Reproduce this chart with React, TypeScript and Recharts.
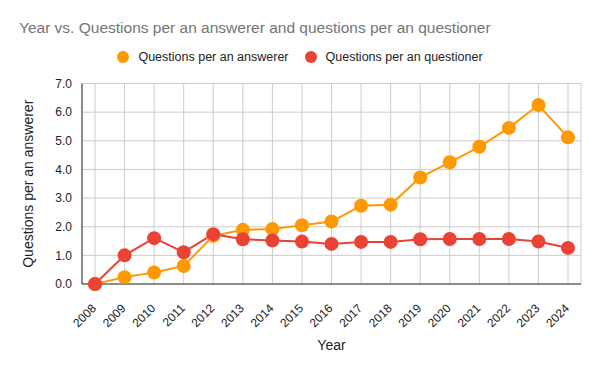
import React from 'react';
import { LineChart, Line, XAxis, YAxis, CartesianGrid, Legend, ReferenceArea } from 'recharts';

const years = ['2008','2009','2010','2011','2012','2013','2014','2015','2016','2017','2018','2019','2020','2021','2022','2023','2024'];
const perAnswerer = [0, 0.24, 0.4, 0.63, 1.68, 1.89, 1.92, 2.05, 2.18, 2.73, 2.77, 3.72, 4.25, 4.79, 5.45, 6.25, 5.12];
const perQuestioner = [0, 1.0, 1.6, 1.11, 1.74, 1.56, 1.52, 1.48, 1.4, 1.47, 1.47, 1.56, 1.57, 1.57, 1.57, 1.48, 1.26];
const yTicks = [0, 1, 2, 3, 4, 5, 6, 7];

const data = years.map((y, i) => ({ year: y, a: perAnswerer[i], q: perQuestioner[i] }));

const FONT = 'Arial, "Liberation Sans", sans-serif';
const ORANGE = '#ff9900';
const RED = '#ea4335';

const XTick = (props: any) => {
  const { x, y, payload } = props;
  return (
    <g transform={`translate(${x + 2},${y + 17})`}>
      <text x={0} y={0} textAnchor="end" transform="rotate(-45)" fontSize={12} fill="#222" fontFamily={FONT}>
        {payload.value}
      </text>
    </g>
  );
};

const LegendContent = (props: any) => {
  const { payload } = props;
  return (
    <div style={{ display: 'flex', justifyContent: 'center', alignItems: 'center', fontFamily: FONT, fontSize: 12.5, color: '#222', width: 600 }}>
      {(payload || []).map((p: any, i: number) => (
        <div key={i} style={{ display: 'flex', alignItems: 'center', marginLeft: i === 0 ? 0 : 16 }}>
          <svg width={12} height={12} style={{ marginRight: 9 }}>
            <circle cx={6} cy={6} r={6} fill={p.color} />
          </svg>
          <span>{p.value}</span>
        </div>
      ))}
    </div>
  );
};

export default function App() {
  return (
    <div style={{ position: 'absolute', left: 0, top: 0, width: 600, height: 371, background: '#fff' }}>
      <div style={{ position: 'absolute', left: 19, top: 19, fontFamily: FONT, fontSize: 15.5, color: '#757575', whiteSpace: 'nowrap' }}>
        Year vs. Questions per an answerer and questions per an questioner
      </div>
      <LineChart width={600} height={371} data={data} margin={{ top: 83.5, right: 19, bottom: 0, left: 0 }}>
        <CartesianGrid stroke="#cccccc" />
        <ReferenceArea x1="2024" y1={0} y2={7} fill="none" stroke="#cccccc" fillOpacity={0} ifOverflow="extendDomain" />
        <XAxis
          dataKey="year"
          height={87}
          padding={{ left: 13, right: 13 }}
          tick={<XTick />}
          tickLine={false}
          axisLine={{ stroke: '#333', strokeWidth: 1 }}
          interval={0}
          label={{ value: 'Year', position: 'insideBottom', offset: 21, fill: '#222', fontSize: 14, fontFamily: FONT }}
        />
        <YAxis
          width={82}
          domain={[0, 7]}
          ticks={yTicks}
          tickFormatter={(v: number) => v.toFixed(1)}
          tickLine={false}
          axisLine={{ stroke: '#333', strokeWidth: 1 }}
          tick={{ fill: '#222', fontSize: 12, fontFamily: FONT }}
          tickMargin={4}
          label={{ value: 'Questions per an answerer', angle: -90, position: 'center', dx: -13, fill: '#222', fontSize: 14, fontFamily: FONT }}
        />
        <Legend
          verticalAlign="middle"
          layout="horizontal"
          content={<LegendContent />}
          wrapperStyle={{ position: 'absolute', top: 50, left: 0, width: 600 }}
        />
        <Line
          dataKey="a"
          name="Questions per an answerer"
          stroke={ORANGE}
          strokeWidth={2}
          dot={{ r: 7, fill: ORANGE, stroke: ORANGE, strokeWidth: 0 }}
          activeDot={false}
          isAnimationActive={false}
        />
        <Line
          dataKey="q"
          name="Questions per an questioner"
          stroke={RED}
          strokeWidth={2}
          dot={{ r: 7, fill: RED, stroke: RED, strokeWidth: 0 }}
          activeDot={false}
          isAnimationActive={false}
        />
      </LineChart>
    </div>
  );
}
